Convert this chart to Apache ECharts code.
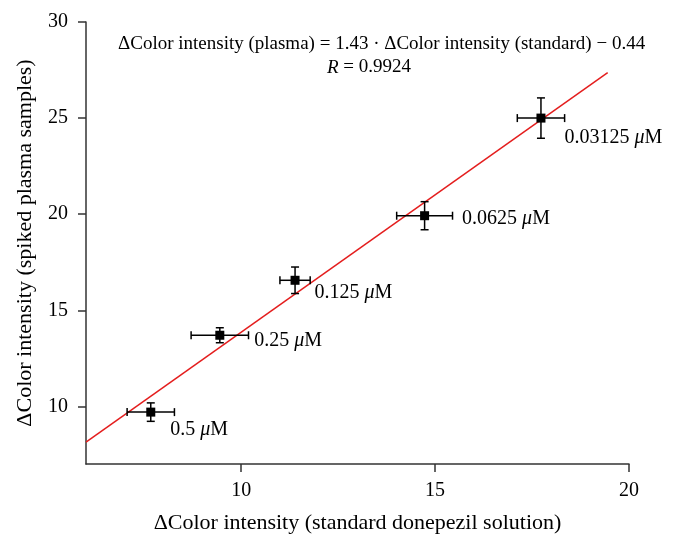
<!DOCTYPE html>
<html>
<head>
<meta charset="utf-8">
<script src="https://cdn.jsdelivr.net/npm/echarts@6/dist/echarts.min.js"></script>
<style>
    html,body{margin:0;padding:0;background:#fff;}
    #chart{width:682px;height:549px;}
</style>
</head>
<body>
<div id="chart"></div>
<script>
    // 数据
    const concLabels = ['0.5', '0.25', '0.125', '0.0625', '0.03125']
    const standardX = [7.67, 9.45, 11.39, 14.73, 17.73]
    const plasmaY = [9.70, 13.70, 16.56, 19.92, 25.0]
    const errX = [0.61, 0.74, 0.39, 0.72, 0.61]
    const errY = [0.48, 0.39, 0.69, 0.73, 1.05]
    // 拟合直线两端
    const fitX = [6, 19.45]
    const fitY = [8.14, 27.37]
    const xTicks = [10, 15, 20]
    const yTicks = [10, 15, 20, 25, 30]

    const font = '"Liberation Serif", "DejaVu Serif", serif'
    const textColor = '#000'
    const labelOffsets = [[10, 18], [25, 6], [10, 12], [28, 3], [14, 20]]

    const chart = echarts.init(document.getElementById('chart'))

    const points = standardX.map((x, i) => ({
        value: [x, plasmaY[i]],
        label: {
            offset: labelOffsets[i],
            color: textColor,
            formatter: concLabels[i] + ' {mu|μ}M'
        }
    }))
    const errData = standardX.map((x, i) => [x, plasmaY[i], errX[i], errY[i]])

    const option = {
        animation: false,
        grid: {left: 86, right: 53, top: 22, bottom: 85},
        xAxis: {
            type: 'value',
            min: 6,
            max: 20,
            name: 'ΔColor intensity (standard donepezil solution)',
            nameLocation: 'middle',
            nameGap: 48,
            nameTextStyle: {fontFamily: font, fontSize: 22, color: textColor},
            splitLine: {show: false},
            axisLine: {lineStyle: {color: '#333', width: 1.5}},
            axisTick: {show: true, length: 8, customValues: xTicks, lineStyle: {color: '#333', width: 1.5}},
            axisLabel: {customValues: xTicks, margin: 17, fontFamily: font, fontSize: 20, color: textColor}
        },
        yAxis: {
            type: 'value',
            min: 7,
            max: 30,
            name: 'ΔColor intensity (spiked plasma samples)',
            nameLocation: 'middle',
            nameGap: 50,
            nameTextStyle: {fontFamily: font, fontSize: 22, color: textColor},
            splitLine: {show: false},
            axisLine: {show: true, lineStyle: {color: '#333', width: 1.5}},
            axisTick: {show: true, length: 8, customValues: yTicks, lineStyle: {color: '#333', width: 1.5}},
            axisLabel: {customValues: yTicks, margin: 18, fontFamily: font, fontSize: 20, color: textColor}
        },
        graphic: [
            {
                type: 'text',
                left: 118,
                top: 35,
                style: {
                    text: 'ΔColor intensity (plasma) = 1.43 · ΔColor intensity (standard) − 0.44',
                    font: '19px ' + font,
                    fill: textColor
                }
            },
            {
                type: 'text',
                left: 327,
                top: 58,
                style: {
                    text: '{i|R} = 0.9924',
                    font: '19px ' + font,
                    fill: textColor,
                    rich: {i: {fontStyle: 'italic', fontFamily: font, fontSize: 19, color: textColor}}
                }
            }
        ],
        series: [
            {
                // 拟合线
                type: 'line',
                data: fitX.map((x, i) => [x, fitY[i]]),
                symbol: 'none',
                lineStyle: {color: '#e41e1e', width: 1.5},
                z: 2
            },
            {
                // 误差线
                type: 'custom',
                data: errData,
                z: 3,
                renderItem: function (params, api) {
                    const x = api.value(0), y = api.value(1)
                    const ex = api.value(2), ey = api.value(3)
                    const c = api.coord([x, y])
                    const l = api.coord([x - ex, y])
                    const r = api.coord([x + ex, y])
                    const t = api.coord([x, y + ey])
                    const b = api.coord([x, y - ey])
                    const cap = 4
                    const style = {stroke: '#000', lineWidth: 1.5}
                    const seg = (x1, y1, x2, y2) => ({type: 'line', shape: {x1, y1, x2, y2}, style})
                    return {
                        type: 'group',
                        children: [
                            seg(l[0], c[1], r[0], c[1]),
                            seg(l[0], c[1] - cap, l[0], c[1] + cap),
                            seg(r[0], c[1] - cap, r[0], c[1] + cap),
                            seg(c[0], t[1], c[0], b[1]),
                            seg(c[0] - cap, t[1], c[0] + cap, t[1]),
                            seg(c[0] - cap, b[1], c[0] + cap, b[1])
                        ]
                    }
                }
            },
            {
                type: 'scatter',
                data: points,
                symbol: 'rect',
                symbolSize: 9,
                itemStyle: {color: '#000', opacity: 1},
                z: 4,
                label: {
                    show: true,
                    position: 'right',
                    align: 'left',
                    fontFamily: font,
                    fontSize: 20,
                    color: textColor,
                    opacity: 1,
                    textBorderWidth: 0,
                    rich: {mu: {fontStyle: 'italic', fontFamily: font, fontSize: 20, color: textColor}}
                }
            }
        ]
    }
    chart.setOption(option)
</script>
</body>
</html>
